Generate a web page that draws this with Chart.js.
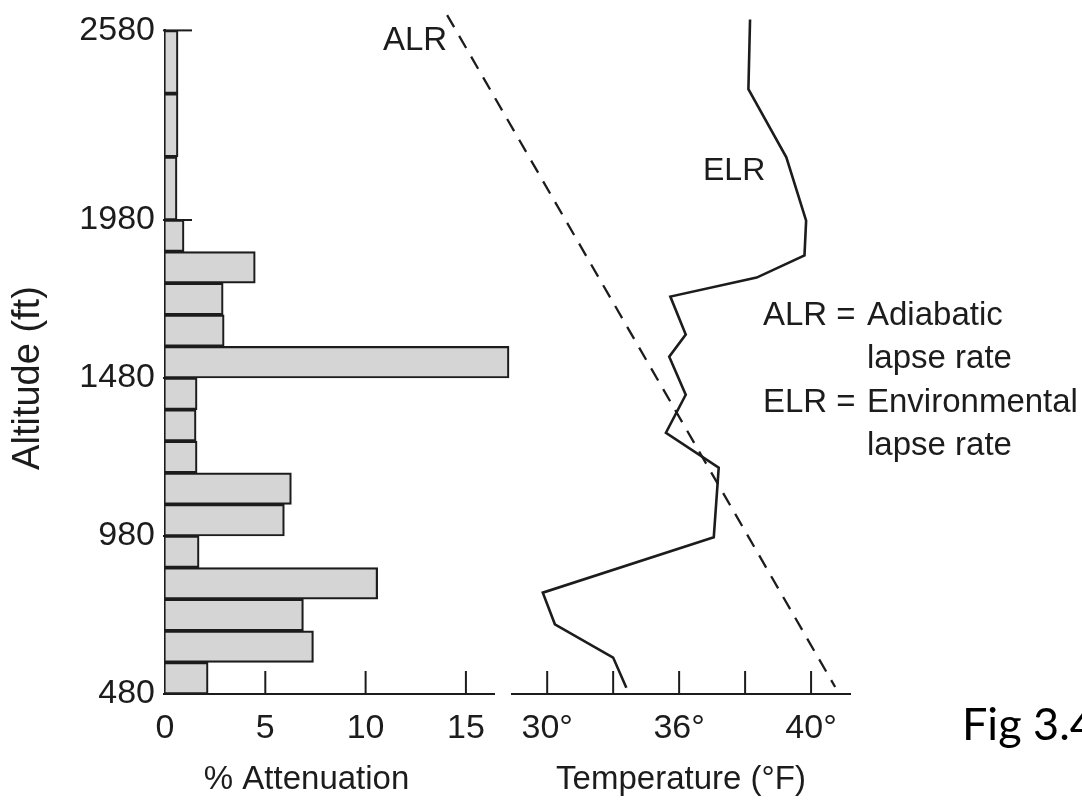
<!DOCTYPE html>
<html>
<head>
<meta charset="utf-8">
<title>Attenuation and lapse rates</title>
<script src="https://cdn.jsdelivr.net/npm/chart.js@4.4.1/dist/chart.umd.min.js"></script>
<style>
  html, body { margin: 0; background: #fff; }
  .figure { position: relative; width: 1082px; height: 800px; overflow: hidden; }
  .figure canvas { position: absolute; left: 0; top: 0; }
</style>
</head>
<body>
<div class="figure">
  <canvas id="attenuation" width="1082" height="800"></canvas>
  <canvas id="lapse" width="1082" height="800"></canvas>
</div>
<script>
// altitude bins (ft), bottom edge up to top edge
const binEdges = [480, 580, 680, 780, 880, 980, 1080, 1180, 1280, 1380, 1480, 1580, 1680, 1780, 1880, 1980, 2180, 2380, 2580];
// % attenuation in each bin, bottom to top
const attenuation = [2.15, 7.4, 6.9, 10.6, 1.7, 5.95, 6.3, 1.6, 1.55, 1.6, 17.15, 2.95, 2.9, 4.5, 0.95, 0.6, 0.65, 0.65];
const altitudeTicks = [480, 980, 1480, 1980, 2580];
const attenuationTicks = [0, 5, 10, 15];

// environmental lapse rate, traced from the top down
const elrAltitude = [2610, 2390, 2175, 1975, 1865, 1795, 1735, 1615, 1545, 1425, 1305, 1195, 975, 800, 700, 595, 500];
const elrTemp = [38.15, 38.1, 39.25, 39.85, 39.8, 38.35, 35.6, 36.2, 35.55, 36.2, 35.4, 37.2, 37.05, 29.8, 30.35, 33.0, 33.6];
// adiabatic lapse rate (straight dashed line)
const alrAltitude = [2624, 502];
const alrTemp = [25.45, 40.73];

// the temperature ticks are evenly spaced in the figure even though the values are not
const tempTicks = [30, 33, 36, 38, 40];
const tempTickLabels = ['30°', '', '36°', '', '40°'];

const ink = '#1c1c1c';
const sans = "'Liberation Sans', Arial, sans-serif";

// linear scale that puts each entry of tempTicks one step apart
class StepScale extends Chart.LinearScale {
  toStep(v) {
    let i = 0;
    while (i < tempTicks.length - 2 && v > tempTicks[i + 1]) i++;
    return i + (v - tempTicks[i]) / (tempTicks[i + 1] - tempTicks[i]);
  }
  getPixelForValue(v) {
    const a = this.toStep(this.min);
    const b = this.toStep(this.max);
    return this.getPixelForDecimal((this.toStep(v) - a) / (b - a));
  }
}
StepScale.id = 'step';
Chart.register(StepScale);

// tick marks in the figure point into the plot, not out of it
const innerTicks = {
  id: 'innerTicks',
  beforeDatasetsDraw(chart, args, opts) {
    const { ctx } = chart;
    ctx.save();
    ctx.strokeStyle = ink;
    ctx.lineWidth = 2;
    ['x', 'y'].forEach((id) => {
      const len = opts[id];
      const scale = chart.scales[id];
      if (!len || !scale) return;
      scale.ticks.forEach((tick, i) => {
        const p = scale.getPixelForTick(i);
        ctx.beginPath();
        if (scale.isHorizontal()) {
          ctx.moveTo(p, scale.top);
          ctx.lineTo(p, scale.top - len);
        } else {
          ctx.moveTo(scale.right - 2, p);
          ctx.lineTo(scale.right + len, p);
        }
        ctx.stroke();
      });
    });
    ctx.restore();
  },
};

const notes = [
  { text: 'ALR', x: 383, y: 50, size: 33 },
  { text: 'ELR', x: 703, y: 180, size: 32 },
  { text: 'ALR =', x: 763, y: 325, size: 33 },
  { text: 'Adiabatic', x: 867, y: 325, size: 33 },
  { text: 'lapse rate', x: 867, y: 368, size: 33 },
  { text: 'ELR =', x: 763, y: 412, size: 33 },
  { text: 'Environmental', x: 867, y: 412, size: 33 },
  { text: 'lapse rate', x: 867, y: 455, size: 33 },
];

const annotations = {
  id: 'annotations',
  afterDraw(chart) {
    const { ctx } = chart;
    ctx.save();
    ctx.fillStyle = ink;
    ctx.textBaseline = 'alphabetic';
    notes.forEach((n) => {
      ctx.font = `${n.size}px ${sans}`;
      ctx.fillText(n.text, n.x, n.y);
    });
    ctx.fillStyle = '#000';
    ctx.font = "45px Lato, 'Open Sans', sans-serif";
    ctx.fillText('Fig 3.4', 962, 740);
    ctx.restore();
  },
};

const bins = attenuation.map((v, i) => ({
  x: v,
  y: (binEdges[i] + binEdges[i + 1]) / 2,
  w: binEdges[i + 1] - binEdges[i],
}));

const barStyle = {
  backgroundColor: '#d5d5d5',
  borderColor: ink,
  borderWidth: 2.2,
  barPercentage: 1,
  categoryPercentage: 1,
  barThickness: 'flex',
  stack: 'att',
  skipNull: true,
  clip: false,
};

const tickFont = { family: sans, size: 34 };
const titleFont = { family: sans, size: 33 };
const hiddenGrid = { drawOnChartArea: false, drawTicks: false };
const axisBorder = { color: ink, width: 2 };

new Chart(document.getElementById('attenuation'), {
  type: 'bar',
  data: {
    datasets: [
      { ...barStyle, label: '100 ft bins', data: bins.filter((b) => b.w === 100) },
      { ...barStyle, label: '200 ft bins', data: bins.filter((b) => b.w === 200) },
    ],
  },
  options: {
    indexAxis: 'y',
    responsive: false,
    animation: false,
    events: [],
    layout: { padding: { top: 29, right: 588, left: 0, bottom: 0 } },
    plugins: { legend: { display: false }, tooltip: { enabled: false }, innerTicks: { x: 23, y: 27 } },
    scales: {
      x: {
        type: 'linear',
        min: 0,
        max: 16.4,
        afterBuildTicks: (s) => { s.ticks = attenuationTicks.map((v) => ({ value: v })); },
        afterFit: (s) => { s.height = 106; },
        ticks: { font: tickFont, color: ink, padding: 14, maxRotation: 0 },
        grid: hiddenGrid,
        border: axisBorder,
        // trailing spaces nudge the centred title left, as in the figure
        title: { display: true, text: '% Attenuation     ', color: ink, font: titleFont, padding: 0 },
      },
      y: {
        type: 'linear',
        min: 480,
        max: 2580,
        offset: false,
        afterBuildTicks: (s) => { s.ticks = altitudeTicks.map((v) => ({ value: v })); },
        afterFit: (s) => { s.width = 165; },
        ticks: { font: tickFont, color: ink, padding: 10, callback: (v) => String(v) },
        grid: { ...hiddenGrid, offset: false },
        border: axisBorder,
        title: { display: true, text: 'Altitude (ft)   ', color: ink, font: { family: sans, size: 38 }, padding: { top: 6, bottom: 0 } },
      },
    },
  },
  plugins: [innerTicks],
});

new Chart(document.getElementById('lapse'), {
  type: 'scatter',
  data: {
    datasets: [
      {
        label: 'ELR',
        data: elrTemp.map((t, i) => ({ x: t, y: elrAltitude[i] })),
        showLine: true,
        borderColor: ink,
        borderWidth: 2.6,
        pointRadius: 0,
        clip: false,
      },
      {
        label: 'ALR',
        data: alrTemp.map((t, i) => ({ x: t, y: alrAltitude[i] })),
        showLine: true,
        borderColor: ink,
        borderWidth: 2.3,
        borderDash: [14, 10],
        pointRadius: 0,
        clip: false,
      },
    ],
  },
  options: {
    responsive: false,
    animation: false,
    events: [],
    layout: { padding: { top: 29, right: 232, left: 512, bottom: 0 } },
    plugins: { legend: { display: false }, tooltip: { enabled: false }, innerTicks: { x: 23 } },
    scales: {
      x: {
        type: 'step',
        min: 28.4,
        max: 41.18,
        afterBuildTicks: (s) => { s.ticks = tempTicks.map((v) => ({ value: v })); },
        afterFit: (s) => { s.height = 106; },
        ticks: { font: tickFont, color: ink, padding: 14, maxRotation: 0, autoSkip: false, callback: (v, i) => tempTickLabels[i] },
        grid: hiddenGrid,
        border: axisBorder,
        title: { display: true, text: 'Temperature (°F)', color: ink, font: titleFont, padding: 0 },
      },
      y: { type: 'linear', display: false, min: 480, max: 2580 },
    },
  },
  plugins: [innerTicks, annotations],
});
</script>
</body>
</html>
